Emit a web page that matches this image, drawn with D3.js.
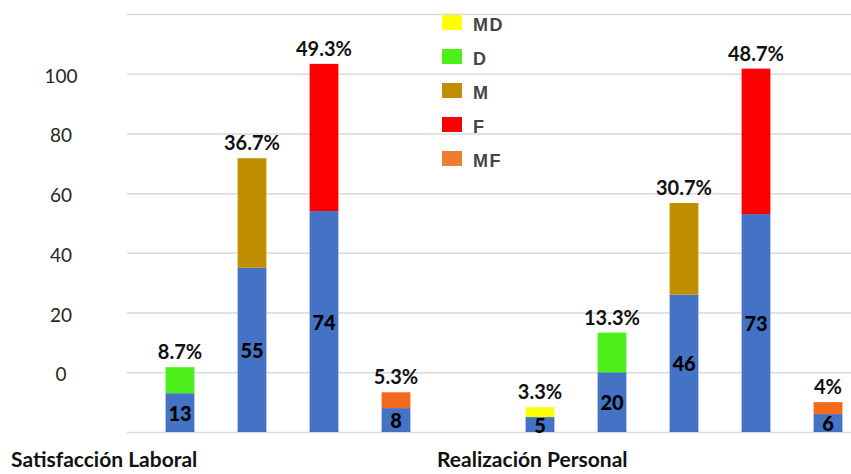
<!DOCTYPE html>
<html>
<head>
<meta charset="utf-8">
<script src="https://cdn.jsdelivr.net/npm/d3@7"></script>
<style>
  body { margin: 0; background: #fff; }
  svg { display: block; }
</style>
</head>
<body>
<script>
// data
let groups = ['Satisfacción Laboral', 'Realización Personal'];
let slots = ['SL-D', 'SL-M', 'SL-F', 'SL-MF', 'gap', 'RP-MD', 'RP-D', 'RP-M', 'RP-F', 'RP-MF'];
let barSlots = ['SL-D', 'SL-M', 'SL-F', 'SL-MF', 'RP-MD', 'RP-D', 'RP-M', 'RP-F', 'RP-MF'];
let barLevels = ['D', 'M', 'F', 'MF', 'MD', 'D', 'M', 'F', 'MF'];
let counts = [13, 55, 74, 8, 5, 20, 46, 73, 6];
let percents = [8.7, 36.7, 49.3, 5.3, 3.3, 13.3, 30.7, 48.7, 4];
let percentLabels = ['8.7%', '36.7%', '49.3%', '5.3%', '3.3%', '13.3%', '30.7%', '48.7%', '4%'];
let legendLevels = ['MD', 'D', 'M', 'F', 'MF'];
let tickLabels = ['0', '20', '40', '60', '80', '100'];
let tickValues = [20, 40, 60, 80, 100, 120];
let gridValues = [0, 20, 40, 60, 80, 100, 120, 140];

let width = 851, height = 474;

let barColor = { MD: '#ffff00', D: '#4cef1a', M: '#bf8f00', F: '#ff0000', MF: '#f26b1d' };
let legendColor = { MD: '#ffff00', D: '#4cef1a', M: '#bf8f00', F: '#ff0000', MF: '#ed7d31' };
let blue = '#4472c4';

let svg = d3.select('body').append('svg').attr('width', width).attr('height', height);

let x = d3.scaleBand().domain(slots).range([144, 864]).paddingInner(0.6).paddingOuter(0.3);
let y = d3.scaleLinear().domain([0, 140]).range([432, 14]);

// gridlines
svg.append('g').attr('class', 'grid')
  .attr('transform', 'translate(127,0)')
  .call(d3.axisLeft(y).tickValues(gridValues).tickSize(-(width - 127)).tickFormat(''))
  .call(g => g.select('.domain').remove())
  .selectAll('line').attr('stroke', '#d9d9d9').attr('stroke-width', 1.5);

// y labels (they sit one gridline up in the original)
let yAxis = svg.append('g').attr('transform', 'translate(61,0)')
  .call(d3.axisLeft(y).tickValues(tickValues).tickSize(0).tickFormat((d, i) => tickLabels[i]));
yAxis.select('.domain').remove();
yAxis.selectAll('text')
  .attr('x', 0).attr('dy', '0.45em')
  .attr('text-anchor', 'middle')
  .style('font-family', 'Lato')
  .style('font-size', '19px')
  .attr('fill', '#262626');

let bars = barSlots.map((s, i) => ({ slot: s, level: barLevels[i], count: counts[i], pct: percents[i], label: percentLabels[i] }));

let bar = svg.selectAll('.bar').data(bars).enter().append('g').attr('class', 'bar');

bar.append('rect')
  .attr('x', d => x(d.slot))
  .attr('width', x.bandwidth())
  .attr('y', d => y(d.count))
  .attr('height', d => y(0) - y(d.count))
  .attr('fill', blue);

bar.append('rect')
  .attr('x', d => x(d.slot))
  .attr('width', x.bandwidth())
  .attr('y', d => y(d.count + d.pct))
  .attr('height', d => y(d.count) - y(d.count + d.pct))
  .attr('fill', d => barColor[d.level]);

bar.append('text')
  .attr('x', d => x(d.slot) + x.bandwidth() / 2)
  .attr('y', d => (y(d.count) + y(0)) / 2 + 8)
  .attr('text-anchor', 'middle')
  .style('font-family', 'Lato')
  .style('font-weight', '900')
  .style('font-size', '20px')
  .attr('fill', '#000')
  .text(d => d.count);

bar.append('text')
  .attr('x', d => x(d.slot) + x.bandwidth() / 2)
  .attr('y', d => y(d.count + d.pct) - 8)
  .attr('text-anchor', 'middle')
  .style('font-family', 'Lato')
  .style('font-weight', 'bold')
  .style('font-size', '20px')
  .attr('fill', '#111')
  .text(d => d.label);

// group names
svg.selectAll('.group').data(groups).enter().append('text')
  .attr('class', 'group')
  .attr('x', (d, i) => i === 0 ? 11 : 437)
  .attr('y', 467)
  .style('font-family', 'Lato')
  .style('font-weight', 'bold')
  .style('font-size', '21px')
  .attr('fill', '#111')
  .text(d => d);

// legend
let legend = svg.selectAll('.legend').data(legendLevels).enter().append('g')
  .attr('class', 'legend')
  .attr('transform', (d, i) => 'translate(442,' + (15 + i * 34) + ')');

legend.append('rect')
  .attr('width', 20).attr('height', 15)
  .attr('fill', d => legendColor[d]);

legend.append('text')
  .attr('x', 31).attr('y', 16)
  .style('font-family', 'Liberation Sans')
  .style('font-weight', 'bold')
  .style('font-size', '18px')
  .style('letter-spacing', '1.5px')
  .attr('fill', '#454545')
  .text(d => d);
</script>
</body>
</html>
